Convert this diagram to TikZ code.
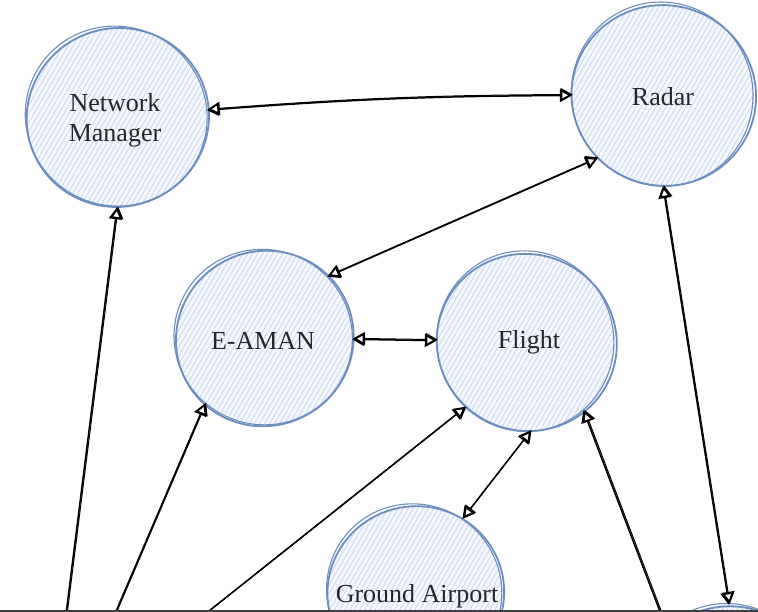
\documentclass[tikz,border=0pt]{standalone}
\usepackage{fontspec}
\setmainfont{Liberation Serif}
\usetikzlibrary{arrows.meta,calc}

\definecolor{edgeblue}{HTML}{6C8EBF}
\definecolor{hatchblue}{HTML}{C6D6EE}
\definecolor{paleblue}{HTML}{F4F7FC}

\tikzset{
  bubble/.style={circle, inner sep=0pt, fill=paleblue,
    font=\fontsize{26}{32}\selectfont, text=black!85, align=center,
    path picture={
      \foreach \k in {-125,-120,...,125}
        \draw[hatchblue, line width=0.7pt, shift={(path picture bounding box.center)}]
          (\k pt,0pt) ++(-75pt,-130pt) -- ++(150pt,260pt);
    }},
  rim/.style={edgeblue, line width=1.8pt},
  tip/.tip={Triangle[open, length=12pt, width=13pt, line width=1.6pt]},
  link/.style={black, line width=1.5pt, tip-tip,
    postaction={draw, line width=1pt, transform canvas={shift={(0.9pt,1pt)}}}},
  feed/.style={black, line width=1.5pt, -tip,
    postaction={draw, line width=1pt, transform canvas={shift={(1.2pt,0.6pt)}}}},
}

% hand-drawn double outline around a circular node
\newcommand\skcirc[3]{%
  \draw[rim] ($(#1.center)+(0.8pt,-0.5pt)$)
    ellipse[x radius=#2pt+1.4pt, y radius=#2pt-0.8pt, rotate=#3];
  \draw[rim, line width=1.1pt] ($(#1.center)+(-0.8pt,0.9pt)$)
    ellipse[x radius=#2pt-0.5pt, y radius=#2pt+1.4pt, rotate=#3+40];
}

\begin{document}
\begin{tikzpicture}[x=1pt, y=-1pt]
  \useasboundingbox (0,0) rectangle (758,612);
  \clip (0,0) rectangle (758,612);
  \fill[white] (0,0) rectangle (758,612);

  % nodes
  \node[bubble, minimum size=180pt] (nm) at (117,117) {};
  \node[bubble, minimum size=182pt] (radar) at (663,95) {};
  \node[bubble, minimum size=176pt] (eaman) at (264,338) {};
  \node[bubble, minimum size=178pt] (flight) at (526,342) {};
  \node[bubble, minimum size=174pt] (ground) at (415,592) {};
  \node[bubble, minimum size=176pt] (lower) at (729,693) {};

  \skcirc{nm}{90}{20}
  \skcirc{radar}{91}{-15}
  \skcirc{eaman}{88}{30}
  \skcirc{flight}{89}{-25}
  \skcirc{ground}{87}{10}
  \skcirc{lower}{88}{0}

  % labels
  \node[font=\fontsize{26}{32}\selectfont, text=black!85, align=center] (nmlabel)
    at ($(nm)+(-2,3)$) {Network\\[-2pt]Manager};
  \node[font=\fontsize{26}{32}\selectfont, text=black!85] (radarlabel)
    at ($(radar)+(0,2)$) {Radar};
  \node[font=\fontsize{26}{32}\selectfont, text=black!85] (eamanlabel)
    at ($(eaman)+(-1,3)$) {E-AMAN};
  \node[font=\fontsize{26}{32}\selectfont, text=black!85] (flightlabel)
    at ($(flight)+(3,0)$) {Flight};
  \node[font=\fontsize{26}{32}\selectfont, text=black!85] (groundlabel)
    at ($(ground)+(2,4)$) {Ground Airport};

  % free ends of the feeds coming from below
  \coordinate (s1) at (64,630);
  \coordinate (s2) at (108,630);
  \coordinate (s3) at (185,630);
  \coordinate (s4) at (667,630);

  % connectors
  \draw[link] (nm) to[bend left=2] (radar);
  \draw[link] (radar.224) -- (eaman.44);
  \draw[link] (eaman) -- (flight);
  \draw[link] (radar.south) -- (lower.north);
  \draw[link] (flight.273) -- (ground.57);

  \draw[feed] (s1) -- (nm.south);
  \draw[feed] (s2) -- (eaman.228);
  \draw[feed] (s3) -- (flight.227);
  \draw[feed] (s4) -- (flight.310);

  % lower frame edge
  \fill[black!75] (0,610) rectangle (758,612);
\end{tikzpicture}
\end{document}
